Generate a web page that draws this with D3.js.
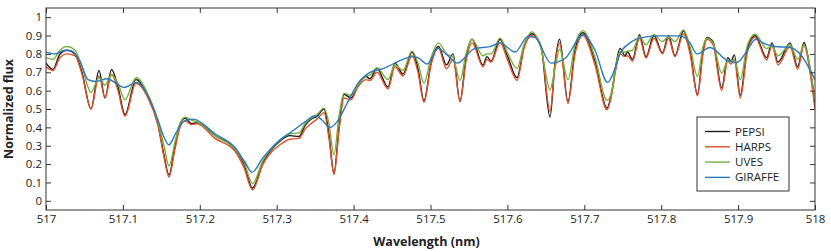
<!DOCTYPE html>
<html>
<head>
<meta charset="utf-8">
<script src="https://cdn.jsdelivr.net/npm/d3@7"></script>
<style>
  body { margin: 0; background: #fff; }
  svg text { font-family: "Open Sans", "Noto Sans", sans-serif; fill: #222; }
</style>
</head>
<body>
<div id="chart"></div>
<script>
// wavelength grid (nm) shared by the three high resolution spectra
var wave = [517.0000, 517.0091, 517.0182, 517.0273, 517.0377, 517.0468, 517.0585, 517.0689, 517.0767, 517.0852,
  517.0936, 517.1027, 517.1170, 517.1326, 517.1456, 517.1534, 517.1599, 517.1677, 517.1743, 517.1808,
  517.1892, 517.1964, 517.2198, 517.2458, 517.2575, 517.2685, 517.2822, 517.3043, 517.3173, 517.3290,
  517.3368, 517.3446, 517.3524, 517.3615, 517.3680, 517.3745, 517.3810, 517.3875, 517.3966, 517.4057,
  517.4161, 517.4213, 517.4304, 517.4447, 517.4538, 517.4642, 517.4759, 517.4837, 517.4915, 517.5007,
  517.5104, 517.5208, 517.5293, 517.5384, 517.5462, 517.5540, 517.5683, 517.5735, 517.5787, 517.5904,
  517.6008, 517.6125, 517.6216, 517.6320, 517.6437, 517.6554, 517.6619, 517.6678, 517.6788, 517.6879,
  517.6983, 517.7139, 517.7295, 517.7360, 517.7412, 517.7464, 517.7529, 517.7562, 517.7627, 517.7718,
  517.7802, 517.7906, 517.8017, 517.8095, 517.8179, 517.8290, 517.8375, 517.8472, 517.8544, 517.8596,
  517.8674, 517.8787, 517.8865, 517.8908, 517.8951, 517.9029, 517.9116, 517.9220, 517.9372, 517.9441,
  517.9519, 517.9675, 517.9775, 517.9857, 517.9935, 518.0000];

var pepsi = [0.75, 0.715, 0.80, 0.82, 0.80, 0.70, 0.50, 0.71, 0.56, 0.715,
  0.62, 0.47, 0.66, 0.57, 0.42, 0.25, 0.14, 0.30, 0.42, 0.45,
  0.42, 0.425, 0.355, 0.28, 0.20, 0.07, 0.21, 0.325, 0.355, 0.35,
  0.41, 0.445, 0.46, 0.50, 0.36, 0.15, 0.40, 0.58, 0.56, 0.63,
  0.677, 0.665, 0.72, 0.62, 0.75, 0.69, 0.81, 0.72, 0.545, 0.75,
  0.84, 0.74, 0.80, 0.54, 0.78, 0.88, 0.74, 0.785, 0.76, 0.88,
  0.78, 0.67, 0.84, 0.91, 0.84, 0.456, 0.75, 0.88, 0.54, 0.82,
  0.915, 0.76, 0.505, 0.60, 0.74, 0.83, 0.79, 0.81, 0.77, 0.904,
  0.785, 0.90, 0.805, 0.90, 0.79, 0.925, 0.82, 0.58, 0.82, 0.89,
  0.867, 0.615, 0.78, 0.76, 0.795, 0.575, 0.82, 0.90, 0.78, 0.86,
  0.755, 0.86, 0.73, 0.862, 0.72, 0.52];

var harps = [0.73, 0.71, 0.78, 0.80, 0.79, 0.69, 0.50, 0.68, 0.56, 0.69,
  0.60, 0.46, 0.64, 0.56, 0.41, 0.24, 0.13, 0.28, 0.40, 0.436,
  0.415, 0.42, 0.34, 0.27, 0.18, 0.06, 0.20, 0.305, 0.335, 0.34,
  0.39, 0.42, 0.445, 0.48, 0.34, 0.143, 0.38, 0.56, 0.55, 0.62,
  0.66, 0.655, 0.70, 0.61, 0.73, 0.68, 0.79, 0.70, 0.536, 0.74,
  0.83, 0.72, 0.77, 0.54, 0.76, 0.86, 0.73, 0.77, 0.755, 0.86,
  0.76, 0.655, 0.83, 0.90, 0.84, 0.487, 0.74, 0.86, 0.53, 0.80,
  0.90, 0.74, 0.496, 0.587, 0.72, 0.80, 0.785, 0.79, 0.76, 0.885,
  0.777, 0.885, 0.80, 0.885, 0.785, 0.91, 0.80, 0.572, 0.80, 0.88,
  0.85, 0.60, 0.76, 0.745, 0.765, 0.56, 0.80, 0.89, 0.768, 0.845,
  0.74, 0.84, 0.717, 0.845, 0.70, 0.50];

var uves = [0.78, 0.77, 0.82, 0.84, 0.82, 0.73, 0.59, 0.67, 0.63, 0.685,
  0.64, 0.55, 0.67, 0.58, 0.43, 0.30, 0.19, 0.32, 0.42, 0.456,
  0.44, 0.43, 0.355, 0.28, 0.21, 0.094, 0.22, 0.33, 0.365, 0.37,
  0.42, 0.45, 0.47, 0.505, 0.42, 0.25, 0.46, 0.585, 0.575, 0.63,
  0.68, 0.685, 0.725, 0.66, 0.74, 0.71, 0.815, 0.75, 0.64, 0.78,
  0.86, 0.80, 0.78, 0.655, 0.80, 0.88, 0.79, 0.80, 0.80, 0.886,
  0.80, 0.72, 0.85, 0.92, 0.83, 0.605, 0.72, 0.826, 0.66, 0.85,
  0.927, 0.78, 0.547, 0.60, 0.74, 0.81, 0.81, 0.815, 0.82, 0.895,
  0.85, 0.905, 0.867, 0.895, 0.867, 0.93, 0.84, 0.677, 0.84, 0.885,
  0.86, 0.695, 0.76, 0.76, 0.77, 0.66, 0.84, 0.907, 0.83, 0.84,
  0.79, 0.85, 0.77, 0.85, 0.73, 0.55];

// GIRAFFE is lower resolution, sampled on its own grid
var waveGiraffe = [517.0000, 517.0117, 517.0247, 517.0338, 517.0442, 517.0546, 517.0650, 517.0793, 517.0910, 517.1014,
  517.1118, 517.1183, 517.1326, 517.1456, 517.1521, 517.1599, 517.1690, 517.1782, 517.1912, 517.2198,
  517.2458, 517.2588, 517.2679, 517.2822, 517.3043, 517.3173, 517.3368, 517.3498, 517.3589, 517.3693,
  517.3784, 517.3914, 517.4057, 517.4213, 517.4382, 517.4642, 517.4759, 517.4837, 517.4954, 517.5098,
  517.5202, 517.5345, 517.5579, 517.5774, 517.5904, 517.6099, 517.6268, 517.6359, 517.6567, 517.6749,
  517.6983, 517.7139, 517.7302, 517.7399, 517.7464, 517.7594, 517.7763, 517.7984, 517.8244, 517.8375,
  517.8466, 517.8635, 517.8856, 517.8986, 517.9090, 517.9233, 517.9350, 517.9480, 517.9675, 517.9805,
  518.0000];

var giraffe = [0.81, 0.80, 0.82, 0.815, 0.76, 0.66, 0.65, 0.665, 0.64, 0.617,
  0.635, 0.645, 0.57, 0.44, 0.36, 0.305, 0.37, 0.43, 0.445, 0.365,
  0.29, 0.21, 0.155, 0.235, 0.333, 0.37, 0.43, 0.464, 0.44, 0.40,
  0.43, 0.53, 0.64, 0.70, 0.72, 0.77, 0.785, 0.78, 0.745, 0.83,
  0.80, 0.75, 0.83, 0.84, 0.86, 0.81, 0.895, 0.89, 0.75, 0.775,
  0.904, 0.82, 0.645, 0.72, 0.80, 0.86, 0.89, 0.898, 0.898, 0.86,
  0.80, 0.835, 0.765, 0.753, 0.80, 0.88, 0.855, 0.84, 0.835, 0.80,
  0.66];

var xTicks = [517, 517.1, 517.2, 517.3, 517.4, 517.5, 517.6, 517.7, 517.8, 517.9, 518];
var yTicks = [0, 0.1, 0.2, 0.3, 0.4, 0.5, 0.6, 0.7, 0.8, 0.9, 1];

var seriesNames = ["PEPSI", "HARPS", "UVES", "GIRAFFE"],
    palette = {"PEPSI": "#1a1a1a", "HARPS": "#e0502a", "UVES": "#77b03a", "GIRAFFE": "#2b78bd"};

var series = [
  {name: "PEPSI", x: wave, y: pepsi},
  {name: "HARPS", x: wave, y: harps},
  {name: "UVES", x: wave, y: uves},
  {name: "GIRAFFE", x: waveGiraffe, y: giraffe}
];

var W = 831, H = 252;
var margin = {top: 8, right: 16, bottom: 42, left: 46},
    width = W - margin.left - margin.right,
    height = H - margin.top - margin.bottom;

var svg = d3.select("#chart").append("svg")
    .attr("width", W)
    .attr("height", H);

var g = svg.append("g")
    .attr("transform", "translate(" + margin.left + "," + margin.top + ")");

var xScale = d3.scaleLinear().domain([517, 518]).range([0, width]),
    yScale = d3.scaleLinear().domain([-0.05, 1.05]).range([height, 0]);

g.append("clipPath").attr("id", "plotclip")
  .append("rect").attr("width", width).attr("height", height);

var line = d3.line()
    .x(function(d) { return xScale(d[0]); })
    .y(function(d) { return yScale(d[1]); })
    .curve(d3.curveMonotoneX);

g.append("g").attr("clip-path", "url(#plotclip)")
  .selectAll("path")
  .data(series).enter()
  .append("path")
  .attr("d", function(s) { return line(d3.zip(s.x, s.y)); })
  .attr("fill", "none")
  .attr("stroke", function(s) { return palette[s.name]; })
  .attr("stroke-width", 1.4)
  .attr("stroke-linejoin", "round");

// axes with inward ticks on all four sides
var fmt = function(d) { return d3.format("")(+d.toFixed(1)); };

function styleAxis(sel) {
  sel.select(".domain").remove();
  sel.selectAll(".tick line").attr("stroke", "#333").attr("stroke-width", 1);
  sel.selectAll(".tick text").style("font-size", "11.5px").attr("fill", "#222");
}

g.append("g")
  .attr("transform", "translate(0," + height + ")")
  .call(d3.axisBottom(xScale).tickValues(xTicks).tickFormat(fmt).tickSize(-5).tickPadding(5))
  .call(styleAxis);
g.append("g")
  .call(d3.axisTop(xScale).tickValues(xTicks).tickFormat("").tickSize(-5))
  .call(styleAxis);
g.append("g")
  .call(d3.axisLeft(yScale).tickValues(yTicks).tickFormat(fmt).tickSize(-5).tickPadding(4))
  .call(styleAxis);
g.append("g")
  .attr("transform", "translate(" + width + ",0)")
  .call(d3.axisRight(yScale).tickValues(yTicks).tickFormat("").tickSize(-5))
  .call(styleAxis);

g.append("rect")
  .attr("width", width).attr("height", height)
  .attr("fill", "none").attr("stroke", "#333").attr("stroke-width", 1);

// axis titles
svg.append("text")
  .attr("x", margin.left + width / 2 - 4).attr("y", H - 6)
  .attr("text-anchor", "middle")
  .style("font-size", "12.5px").style("font-weight", "bold")
  .text("Wavelength (nm)");
svg.append("text")
  .attr("transform", "translate(13," + (margin.top + yScale(0.5)) + ") rotate(-90)")
  .attr("text-anchor", "middle")
  .style("font-size", "12.5px").style("font-weight", "bold")
  .text("Normalized flux");

// legend
var legend = svg.append("g").attr("transform", "translate(697,117)");
legend.append("rect")
  .attr("width", 92).attr("height", 74)
  .attr("fill", "#fff").attr("stroke", "#333").attr("stroke-width", 1);
var item = legend.selectAll(".item")
  .data(seriesNames).enter()
  .append("g")
  .attr("transform", function(d, i) { return "translate(0," + (14.5 + i * 15.3) + ")"; });
item.append("line")
  .attr("x1", 8).attr("x2", 33)
  .attr("stroke", function(d) { return palette[d]; })
  .attr("stroke-width", 1.4);
item.append("text")
  .attr("x", 38).attr("dy", "0.35em")
  .style("font-size", "11.5px")
  .text(function(d) { return d; });
</script>
</body>
</html>
